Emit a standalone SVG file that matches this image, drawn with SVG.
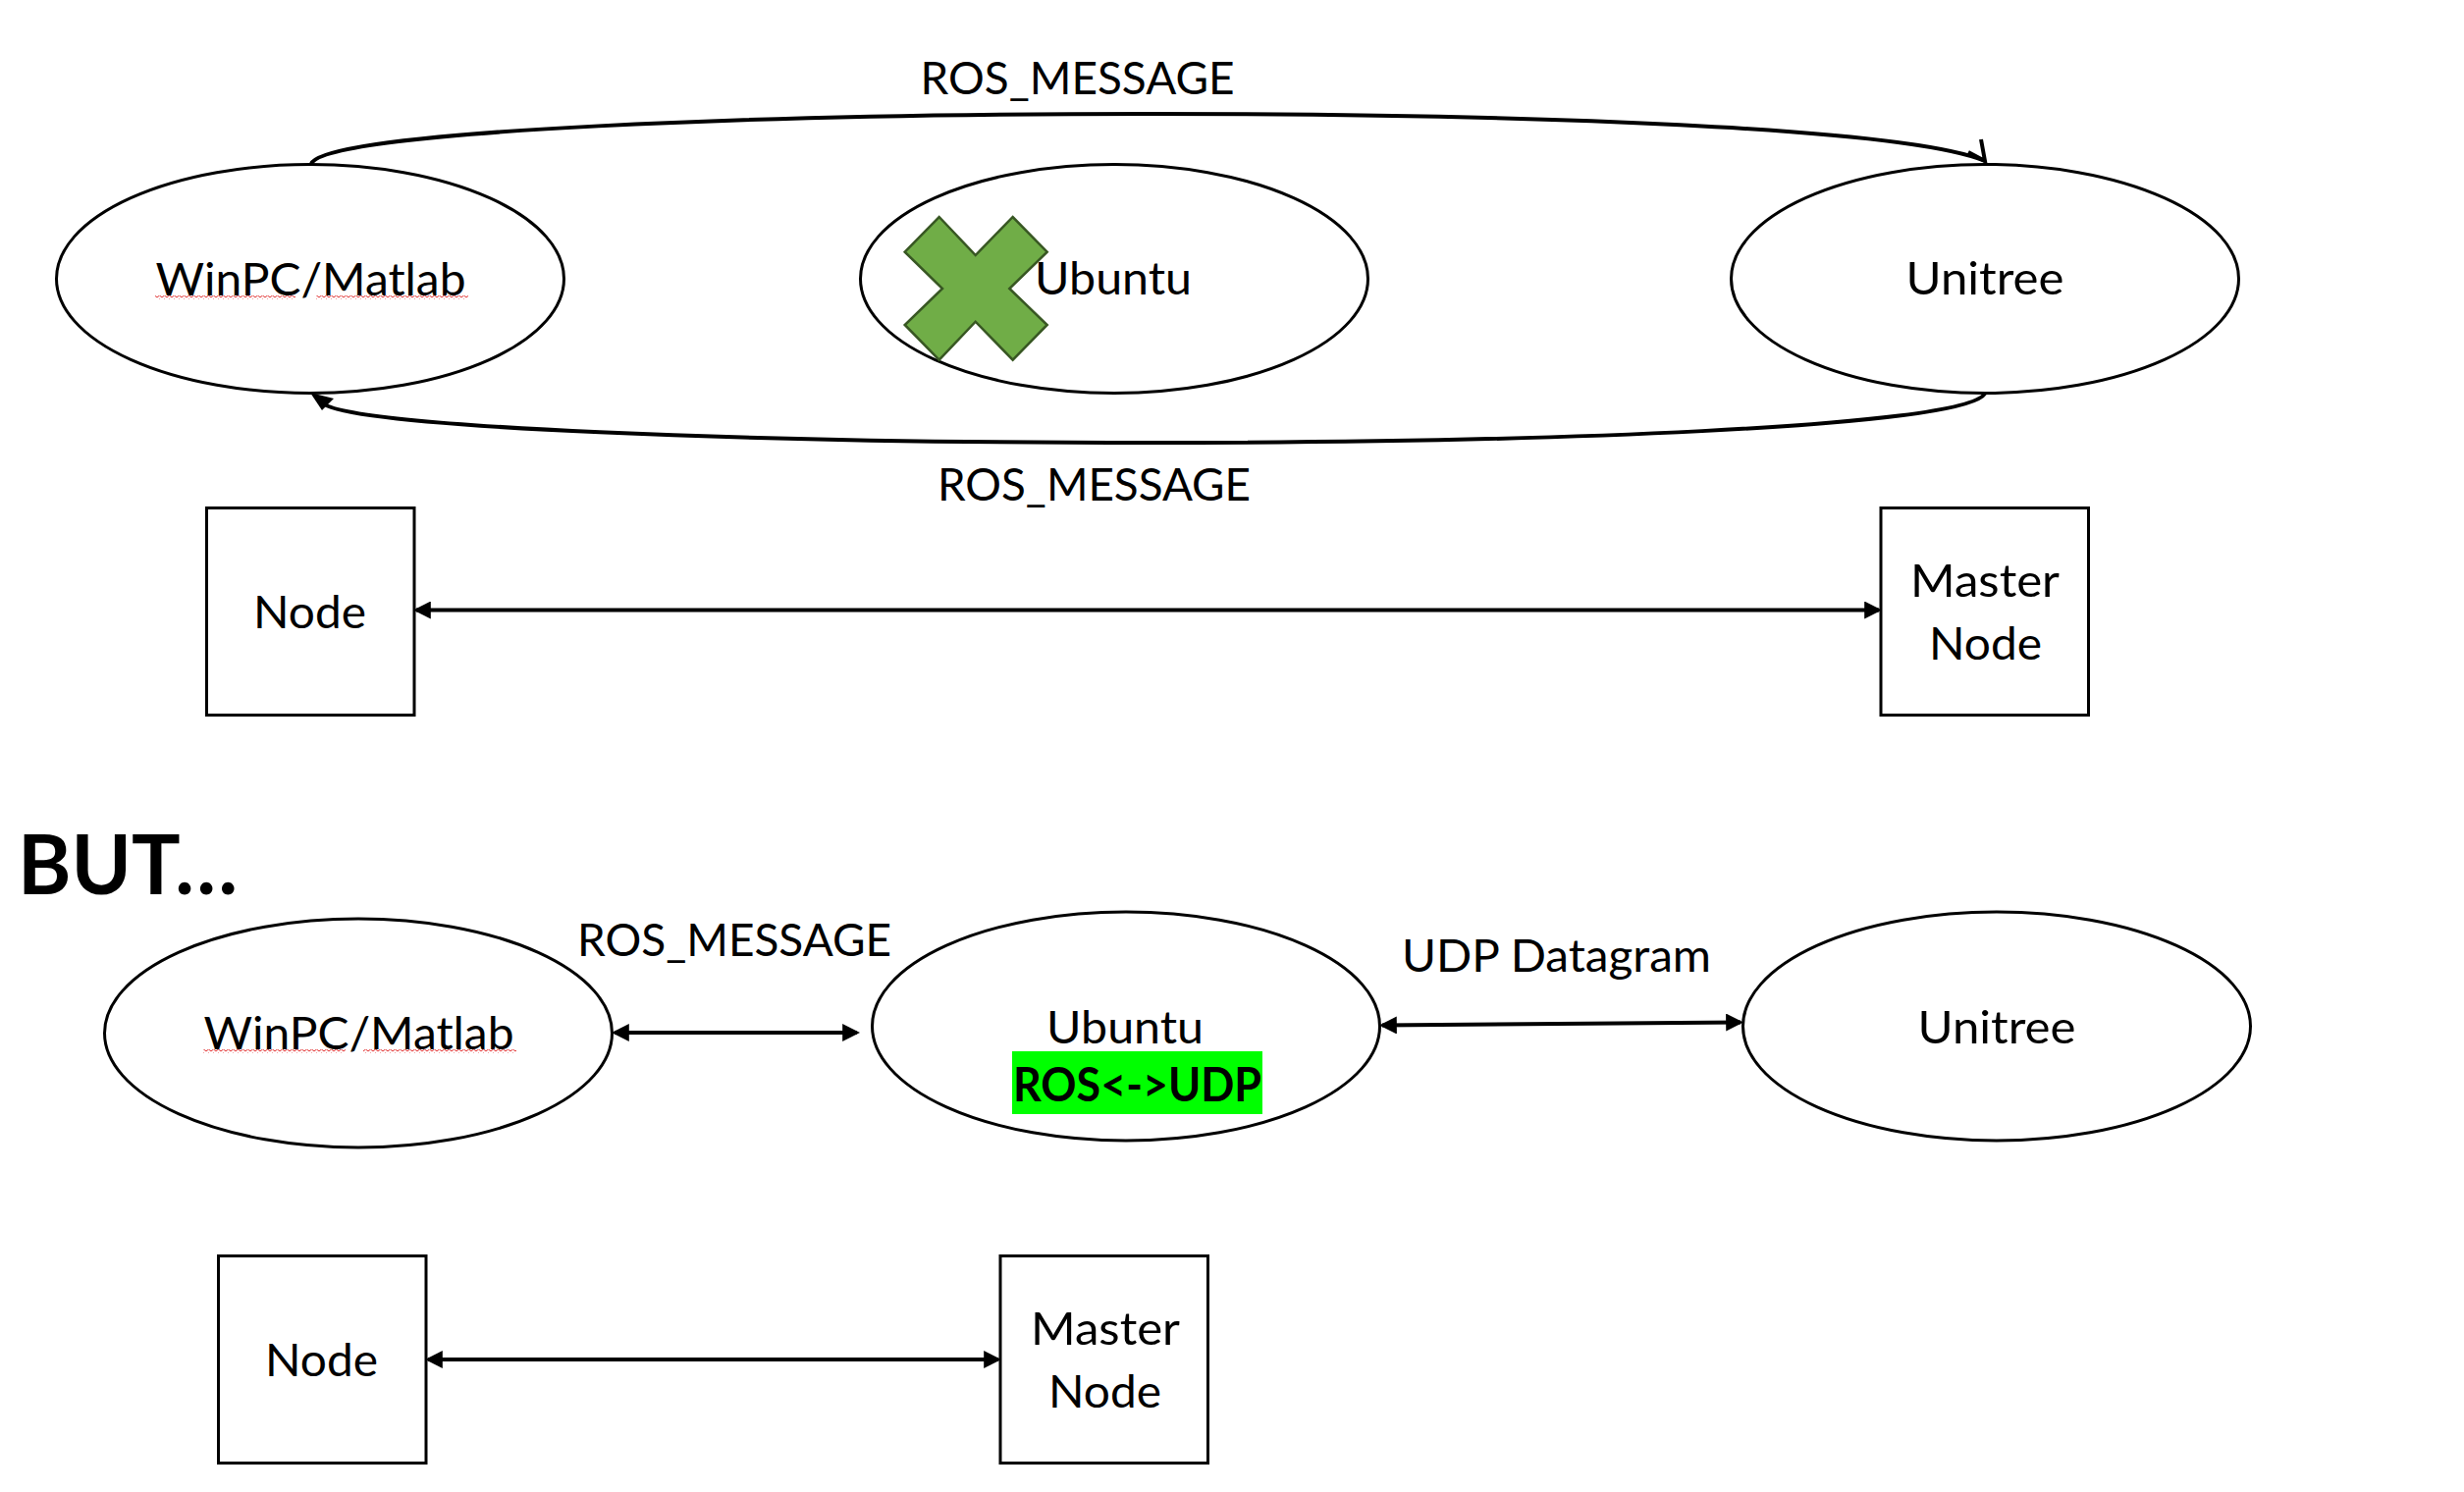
<svg xmlns="http://www.w3.org/2000/svg" width="2510" height="1520" viewBox="0 0 2510 1520">
<style>
.shape{fill:#fff;stroke:#000;stroke-width:3}
.conn{fill:none;stroke:#000;stroke-width:4}
.t{font-family:"Lato","Liberation Sans",sans-serif;font-size:47px;fill:#000}
.b{font-weight:700}
</style>
<defs>
<marker id="ah" markerUnits="userSpaceOnUse" markerWidth="18" markerHeight="18" refX="14" refY="8.5" orient="auto-start-reverse" viewBox="0 0 17 17"><path d="M0,0L17,8.5L0,17z" fill="#000"/></marker>
<pattern id="sq" patternUnits="userSpaceOnUse" width="5" height="4"><path d="M0,3L2.5,1L5,3" fill="none" stroke="#e03030" stroke-width="1"/></pattern>
</defs>
<rect width="2510" height="1520" fill="#fff"/>
<g id="connectors">
<path class="conn" d="M317,167C331,132 800,116 1169,116C1560,116 1940,130 2022,164"/>
<path class="conn" d="M2018,142L2022,164L2005,155"/>
<path class="conn" d="M2022,401C2000,436 1560,451 1169,451C780,451 350,436 328,410"/>
<path d="M316,400L328,418L340,406z" fill="#000"/>
<line class="conn" x1="424" y1="621.5" x2="1914" y2="621.5" marker-start="url(#ah)" marker-end="url(#ah)"/>
<line class="conn" x1="626" y1="1052" x2="873" y2="1052" marker-start="url(#ah)" marker-end="url(#ah)"/>
<line class="conn" x1="1408" y1="1044.5" x2="1773" y2="1041.5" marker-start="url(#ah)" marker-end="url(#ah)"/>
<line class="conn" x1="436" y1="1385" x2="1017" y2="1385" marker-start="url(#ah)" marker-end="url(#ah)"/>
</g>
<g id="top-winpc"><ellipse class="shape" cx="316" cy="284" rx="258.5" ry="116.5"/><text class="t" x="158.5" y="301" textLength="316" lengthAdjust="spacingAndGlyphs">WinPC/Matlab</text><rect x="158" y="301" width="143" height="4" fill="url(#sq)"/><rect x="322" y="301" width="155" height="4" fill="url(#sq)"/></g>
<g id="top-ubuntu"><ellipse class="shape" cx="1135" cy="284" rx="258.5" ry="116.5"/><text class="t" x="1054" y="300" textLength="160" lengthAdjust="spacingAndGlyphs">Ubuntu</text></g>
<g id="cross"><path d="M956.7,221L993.7,260L1031.7,221L1066.7,256.7L1028.3,294L1066.7,331L1031.7,366.7L993.7,327.7L956.7,366.7L921.7,331L960,294L921.7,256.7z" fill="#70ad47" stroke="#385723" stroke-width="2.5"/></g>
<g id="top-unitree"><ellipse class="shape" cx="2022" cy="284" rx="258.5" ry="116.5"/><text class="t" x="1941.5" y="300" textLength="161" lengthAdjust="spacingAndGlyphs">Unitree</text></g>
<g id="label-top"><text class="t" x="937.5" y="96" textLength="320" lengthAdjust="spacingAndGlyphs">ROS_MESSAGE</text></g>
<g id="label-bottom"><text class="t" x="955" y="510" textLength="319" lengthAdjust="spacingAndGlyphs">ROS_MESSAGE</text></g>
<g id="top-node"><rect class="shape" x="210.5" y="517.5" width="211.5" height="211"/><text class="t" x="258" y="640" textLength="115" lengthAdjust="spacingAndGlyphs">Node</text></g>
<g id="top-master"><rect class="shape" x="1916" y="517.5" width="211.5" height="211"/><text class="t" x="1946" y="608" textLength="152" lengthAdjust="spacingAndGlyphs">Master</text><text class="t" x="1965" y="672" textLength="115" lengthAdjust="spacingAndGlyphs">Node</text></g>
<g id="but"><text class="t b" style="font-size:85px" x="18" y="911" textLength="224" lengthAdjust="spacingAndGlyphs">BUT…</text></g>
<g id="bottom-winpc"><ellipse class="shape" cx="365" cy="1052.5" rx="258.5" ry="116.5"/><text class="t" x="207.5" y="1069" textLength="316" lengthAdjust="spacingAndGlyphs">WinPC/Matlab</text><rect x="207" y="1069" width="145" height="4" fill="url(#sq)"/><rect x="370" y="1069" width="156" height="4" fill="url(#sq)"/></g>
<g id="bottom-label-ros"><text class="t" x="588" y="974" textLength="320" lengthAdjust="spacingAndGlyphs">ROS_MESSAGE</text></g>
<g id="bottom-ubuntu"><ellipse class="shape" cx="1147" cy="1045.5" rx="258.5" ry="116.5"/><text class="t" x="1066" y="1063" textLength="160" lengthAdjust="spacingAndGlyphs">Ubuntu</text><rect x="1031" y="1071" width="255" height="64" fill="#0f0"/><text class="t b" x="1032" y="1121.5" textLength="253" lengthAdjust="spacingAndGlyphs">ROS&lt;-&gt;UDP</text></g>
<g id="bottom-label-udp"><text class="t" x="1428" y="990" textLength="315" lengthAdjust="spacingAndGlyphs">UDP Datagram</text></g>
<g id="bottom-unitree"><ellipse class="shape" cx="2034" cy="1045.5" rx="258.5" ry="116.5"/><text class="t" x="1953.5" y="1063" textLength="161" lengthAdjust="spacingAndGlyphs">Unitree</text></g>
<g id="bottom-node"><rect class="shape" x="222.5" y="1279.5" width="211.5" height="211"/><text class="t" x="270" y="1402" textLength="115" lengthAdjust="spacingAndGlyphs">Node</text></g>
<g id="bottom-master"><rect class="shape" x="1019" y="1279.5" width="211.5" height="211"/><text class="t" x="1050" y="1370" textLength="152" lengthAdjust="spacingAndGlyphs">Master</text><text class="t" x="1068" y="1434" textLength="115" lengthAdjust="spacingAndGlyphs">Node</text></g>
</svg>
